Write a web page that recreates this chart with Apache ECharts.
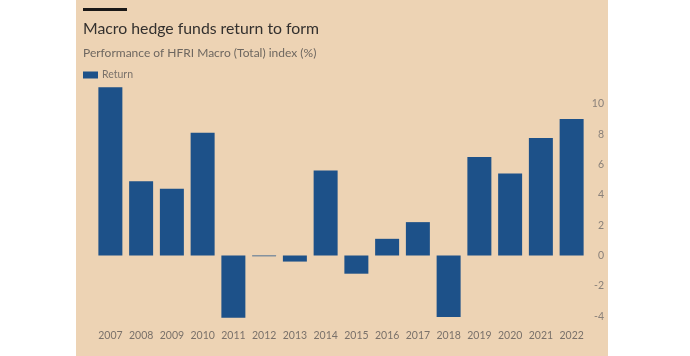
<!DOCTYPE html>
<html>
<head>
<meta charset="utf-8">
<script src="https://cdn.jsdelivr.net/npm/echarts@6/dist/echarts.min.js"></script>
<style>
  html, body { margin: 0; padding: 0; background: #ffffff; }
  #panel { position: absolute; left: 76px; top: 0; width: 532px; height: 356px; background: #edd3b4; }
  #chart { width: 532px; height: 356px; }
</style>
</head>
<body>
<div id="panel"><div id="chart"></div></div>
<script>
const categories = ['2007','2008','2009','2010','2011','2012','2013','2014','2015','2016','2017','2018','2019','2020','2021','2022'];
const returns = [11.1, 4.9, 4.4, 8.1, -4.1, -0.05, -0.4, 5.6, -1.2, 1.1, 2.2, -4.05, 6.5, 5.4, 7.75, 9.0];
const seriesName = 'Return';
const titleText = 'Macro hedge funds return to form';
const subtitleText = 'Performance of HFRI Macro (Total) index (%)';

const chart = echarts.init(document.getElementById('chart'));
const font = 'Lato';
chart.setOption({
  animation: false,
  textStyle: { fontFamily: font },
  graphic: [
    { type: 'rect', shape: { x: 7, y: 8, width: 44, height: 3 }, style: { fill: '#1a1817' } }
  ],
  title: {
    text: titleText,
    subtext: subtitleText,
    left: 7, top: 21,
    padding: 0,
    itemGap: 10,
    textStyle: { fontFamily: font, fontSize: 15.8, fontWeight: 'normal', color: '#33302e' },
    subtextStyle: { fontFamily: font, fontSize: 12, color: '#6e6760' }
  },
  legend: {
    data: [seriesName],
    left: 7, top: 69.5,
    padding: 0,
    itemWidth: 15, itemHeight: 7,
    itemGap: 6,
    icon: 'rect',
    textStyle: { fontFamily: font, fontSize: 10.5, color: '#7a726b', padding: [0,0,0,-1] }
  },
  grid: { left: 19, right: 21, top: 73.5, bottom: 9.5, containLabel: false, outerBoundsMode: 'none' },
  xAxis: {
    type: 'category',
    data: categories,
    offset: -22,
    axisLine: { show: false },
    axisTick: { show: false },
    axisLabel: { interval: 0, margin: 6, fontFamily: font, fontSize: 10.5, color: '#7a716a' }
  },
  yAxis: {
    type: 'value',
    position: 'right',
    min: -6, max: 12, interval: 2,
    splitLine: { show: false },
    axisLine: { show: false },
    axisTick: { show: false },
    axisLabel: {
      showMinLabel: false, showMaxLabel: false,
      margin: 3,
      formatter: v => '{a|' + v + '}',
      rich: { a: { width: 14, align: 'right', fontFamily: font, fontSize: 10.5, color: '#8a817a' } }
    }
  },
  series: [{
    name: seriesName,
    type: 'bar',
    data: returns,
    barCategoryGap: '22%',
    itemStyle: { color: '#1d5189' }
  }]
});
</script>
</body>
</html>
